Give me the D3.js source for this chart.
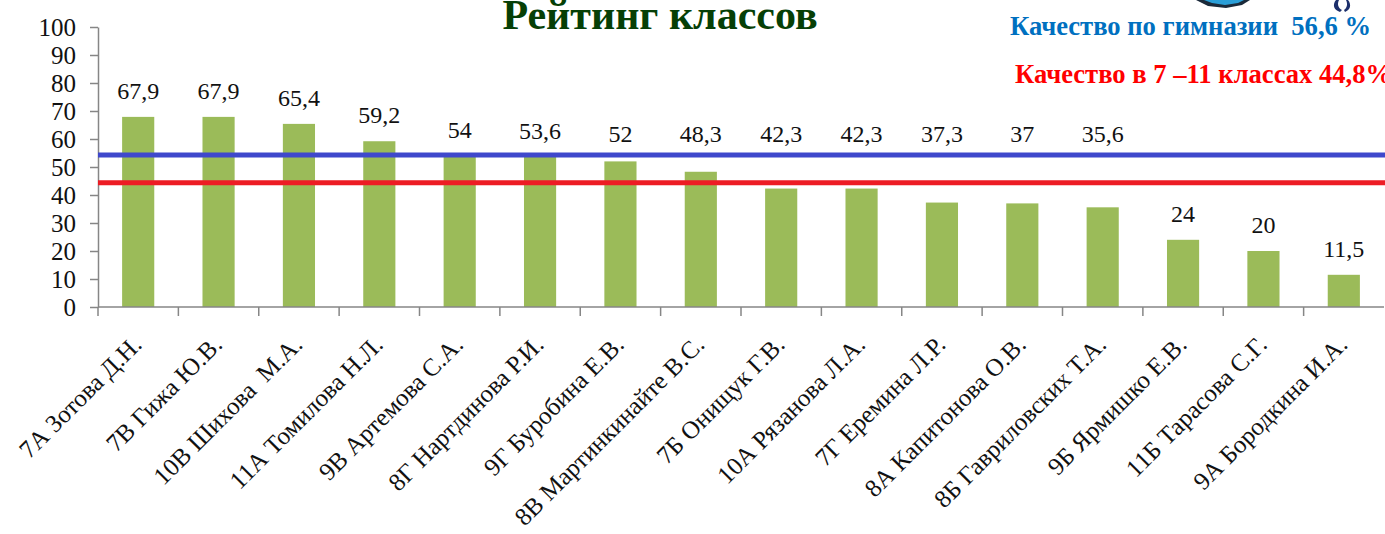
<!DOCTYPE html>
<html>
<head>
<meta charset="utf-8">
<script src="https://cdn.jsdelivr.net/npm/d3@7"></script>
<style>
  html, body { margin: 0; padding: 0; background: #fff; }
  svg { display: block; }
  svg text { font-family: 'Liberation Serif', 'Times New Roman', serif; }
</style>
</head>
<body>
<div id="chart"></div>
<script>
// Рейтинг классов — качество знаний по классам
const classes = [
  '7А Зотова Д.Н.', '7В Гижа Ю.В.', '10В Шихова  М.А.', '11А Томилова Н.Л.',
  '9В Артемова С.А.', '8Г Нартдинова Р.И.', '9Г Буробина Е.В.', '8В Мартинкинайте В.С.',
  '7Б Онищук Г.В.', '10А Рязанова Л.А.', '7Г Еремина Л.Р.', '8А Капитонова О.В.',
  '8Б Гавриловских Т.А.', '9Б Ярмишко Е.В.', '11Б Тарасова С.Г.', '9А Бородкина И.А.'
];
const quality = [67.9, 67.9, 65.4, 59.2, 54, 53.6, 52, 48.3, 42.3, 42.3, 37.3, 37, 35.6, 24, 20, 11.5];
const valueLabels = ['67,9', '67,9', '65,4', '59,2', '54', '53,6', '52', '48,3', '42,3', '42,3', '37,3', '37', '35,6', '24', '20', '11,5'];
const yTicks = [0, 10, 20, 30, 40, 50, 60, 70, 80, 90, 100];
// horizontal reference lines, as drawn
const refLines = [
  { value: 54.3, color: '#3f48cc' },
  { value: 44.4, color: '#ed1c24' }
];

const W = 1385, H = 534;
const margin = { top: 27, right: 1, bottom: 227, left: 98 };

const svg = d3.select('#chart').append('svg')
  .attr('width', W)
  .attr('height', H);

const x = d3.scaleBand()
  .domain(classes)
  .range([margin.left, W - margin.right])
  .paddingInner(0.6)
  .paddingOuter(0.3);

const y = d3.scaleLinear()
  .domain([0, 100])
  .range([H - margin.bottom, margin.top]);

// bars
svg.selectAll('.bar').data(quality)
  .join('rect')
  .attr('class', 'bar')
  .attr('x', (d, i) => x(classes[i]))
  .attr('y', d => y(d))
  .attr('width', x.bandwidth())
  .attr('height', d => y(0) - y(d))
  .attr('fill', '#9bbb59');

// value labels: above the bar, lifted over the lines when they would collide
const blueY = y(refLines[0].value), redY = y(refLines[1].value);
function labelY(d) {
  const natural = y(d) - 18;
  if (natural > blueY - 13 && natural < redY + 25) return blueY - 13;
  return natural;
}
svg.selectAll('.val').data(quality)
  .join('text')
  .attr('class', 'val')
  .attr('x', (d, i) => x(classes[i]) + x.bandwidth() / 2)
  .attr('y', d => labelY(d))
  .attr('text-anchor', 'middle')
  .attr('font-size', '24px')
  .attr('fill', '#111')
  .text((d, i) => valueLabels[i]);

// y axis
const yAxis = svg.append('g')
  .attr('transform', `translate(${margin.left},0)`)
  .call(d3.axisLeft(y).tickValues(yTicks).tickSize(8).tickPadding(14).tickSizeOuter(0));
yAxis.attr('font-family', null);
yAxis.select('.domain').attr('stroke', '#868686').attr('stroke-width', 1.5);
yAxis.selectAll('.tick line').attr('stroke', '#868686').attr('stroke-width', 1.5);
yAxis.selectAll('.tick text')
  .attr('font-size', '25px')
  .attr('fill', '#111')
  .attr('dy', '0.34em');

// x axis: ticks between categories
const xAxisG = svg.append('g');
xAxisG.append('line')
  .attr('x1', margin.left).attr('x2', W - margin.right)
  .attr('y1', y(0)).attr('y2', y(0))
  .attr('stroke', '#868686').attr('stroke-width', 1.5);
const boundaries = classes.map(c => x(c) - x.step() * 0.3);
xAxisG.selectAll('.xtick').data(boundaries)
  .join('line')
  .attr('class', 'xtick')
  .attr('x1', d => d).attr('x2', d => d)
  .attr('y1', y(0)).attr('y2', y(0) + 9)
  .attr('stroke', '#868686').attr('stroke-width', 1.5);

xAxisG.selectAll('.xlab').data(classes)
  .join('text')
  .attr('class', 'xlab')
  .attr('transform', d => `translate(${x(d) + x.bandwidth() / 2 + 5},${y(0) + 39}) rotate(-45)`)
  .attr('text-anchor', 'end')
  .attr('font-size', '25px')
  .attr('fill', '#111')
  .attr('xml:space', 'preserve')
  .text(d => d);

// reference lines
svg.selectAll('.ref').data(refLines)
  .join('line')
  .attr('class', 'ref')
  .attr('x1', margin.left).attr('x2', W)
  .attr('y1', d => y(d.value)).attr('y2', d => y(d.value))
  .attr('stroke', d => d.color)
  .attr('stroke-width', 5);

// title
svg.append('text')
  .attr('x', 660).attr('y', 29)
  .attr('text-anchor', 'middle')
  .attr('font-weight', 'bold')
  .attr('font-size', '42px')
  .attr('fill', '#063f06')
  .text('Рейтинг классов');

svg.append('text')
  .attr('x', 1010).attr('y', 35)
  .attr('font-weight', 'bold')
  .attr('font-size', '26.6px')
  .attr('fill', '#0070c0')
  .attr('xml:space', 'preserve')
  .text('Качество по гимназии  56,6 %');

svg.append('text')
  .attr('x', 1015).attr('y', 83)
  .attr('font-weight', 'bold')
  .attr('font-size', '26.6px')
  .attr('fill', '#ff0000')
  .text('Качество в 7 –11 классах 44,8%');

// cropped logo fragments at the top edge
const logo = svg.append('g');
logo.append('path')
  .attr('d', 'M1196,0 L1250,0 L1242,5 L1226,8 L1208,6 Z')
  .attr('fill', '#1b2a3a');
logo.append('path')
  .attr('d', 'M1204,0 L1244,0 L1238,3 L1225,5 L1212,3 Z')
  .attr('fill', '#2a9fd8');
logo.append('path')
  .attr('d', 'M1336,0 C1332,5 1334,10 1340,12 L1342,10 C1338,8 1337,4 1339,0 Z M1348,0 C1352,5 1350,10 1345,12 L1344,10 C1347,8 1348,4 1346,0 Z')
  .attr('fill', '#1c2f6b');
</script>
</body>
</html>
